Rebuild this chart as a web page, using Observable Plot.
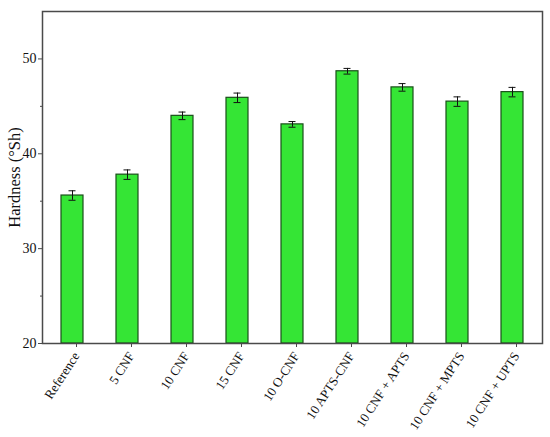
<!DOCTYPE html>
<html>
<head>
<meta charset="utf-8">
<script src="https://cdn.jsdelivr.net/npm/d3@7"></script>
<script src="https://cdn.jsdelivr.net/npm/@observablehq/plot@0.6"></script>
<style>
  html, body { margin: 0; padding: 0; background: #fff; }
  #chart svg { display: block; }
</style>
</head>
<body>
<div id="chart"></div>
<script>
const categories = ["Reference", "5 CNF", "10 CNF", "15 CNF", "10 O-CNF", "10 APTS-CNF", "10 CNF + APTS", "10 CNF + MPTS", "10 CNF + UPTS"];
const hardness = [35.6, 37.8, 44.0, 45.9, 43.1, 48.7, 47.0, 45.5, 46.5];
const errors = [0.5, 0.5, 0.4, 0.5, 0.3, 0.3, 0.4, 0.5, 0.5];
const majorTicks = [20, 30, 40, 50];
const minorTicks = [25, 35, 45];
const yLabel = "Hardness (°Sh)";

const data = categories.map((c, i) => ({
  cat: c, v: hardness[i], lo: hardness[i] - errors[i], hi: hardness[i] + errors[i]
}));

const axisColor = "#4a4a4a";
const font = "Liberation Serif, Times New Roman, serif";

const chart = Plot.plot({
  width: 550,
  height: 437,
  marginLeft: 42,
  marginRight: 8,
  marginTop: 11,
  marginBottom: 94,
  style: { fontFamily: font, background: "#fff", color: "#111" },
  x: { domain: categories, paddingInner: 0.6, paddingOuter: 0.3, label: null },
  y: { domain: [20, 55], label: null },
  marks: [
    Plot.barY(data, { x: "cat", y1: 20, y2: "v", fill: "#35e535", stroke: "#1a4f1a", strokeWidth: 1.2 }),
    Plot.ruleX(data, { x: "cat", y1: "lo", y2: "hi", stroke: "#111", strokeWidth: 1 }),
    Plot.tickY(data, { x: "cat", y: "hi", insetLeft: 7.5, insetRight: 7.5, stroke: "#111", strokeWidth: 1 }),
    Plot.tickY(data, { x: "cat", y: "lo", insetLeft: 7.5, insetRight: 7.5, stroke: "#111", strokeWidth: 1 }),
    Plot.frame({ stroke: axisColor, strokeWidth: 1.5 }),
    Plot.axisY({ ticks: majorTicks, tickSize: 4, tickPadding: 2, fontSize: 14, stroke: axisColor, fill: "#111", label: null }),
    Plot.axisY({ ticks: minorTicks, tickSize: 2, tickFormat: () => "", stroke: axisColor, label: null }),
    Plot.axisX({ tickSize: 4, tickRotate: -57, fontSize: 13, stroke: axisColor, fill: "#111", label: null, tickPadding: 6, dx: 4 }),
    Plot.text([yLabel], { frameAnchor: "left", textAnchor: "middle", dx: -28, rotate: -90, fontSize: 16.5, fill: "#111" })
  ]
});
document.getElementById("chart").appendChild(chart);
</script>
</body>
</html>
